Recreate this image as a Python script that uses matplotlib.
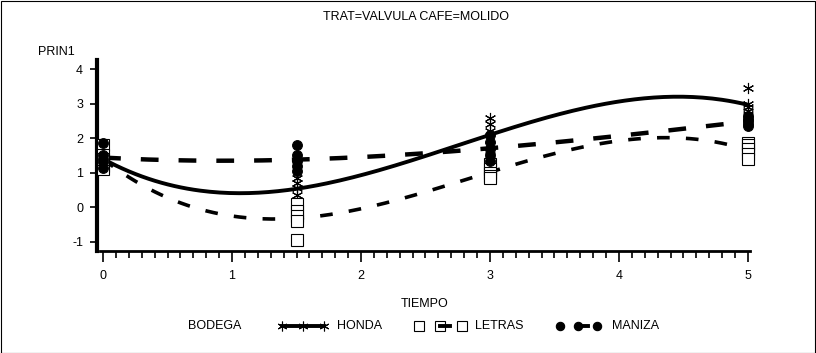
import numpy as np
import matplotlib.pyplot as plt
from matplotlib.lines import Line2D
from matplotlib.patches import Rectangle

plt.rcParams['font.family'] = ['Liberation Sans', 'DejaVu Sans']
plt.rcParams['axes.unicode_minus'] = False

# PRIN1 scores per sampling time (TIEMPO), five replicates each
tiempo = [0, 1.5, 3, 5]
honda = [
    [1.40, 1.35, 1.30, 1.45, 1.50],
    [0.85, 0.70, 0.55, 0.35, 0.22],
    [2.60, 2.40, 2.20, 1.80, 1.50],
    [3.45, 3.00, 2.90, 2.80, 2.70],
]
letras = [
    [1.80, 1.50, 1.20, 1.10, 1.40],
    [0.10, -0.10, -0.25, -0.40, -0.95],
    [1.25, 1.10, 1.00, 0.90, 0.85],
    [1.85, 1.80, 1.70, 1.55, 1.40],
]
maniza = [
    [1.85, 1.40, 1.30, 1.50, 1.15],
    [1.80, 1.50, 1.35, 1.20, 1.05],
    [2.10, 1.90, 1.70, 1.50, 1.35],
    [2.65, 2.55, 2.50, 2.40, 2.35],
]
bodegas = ['HONDA', 'LETRAS', 'MANIZA']

W, H = 816, 353
fig = plt.figure(figsize=(W / 100, H / 100), dpi=100)
ax = fig.add_axes([97 / W, 1 - 251 / H, (750 - 97) / W, (251 - 60) / H])

star = (6, 2, 0)
styles = {
    'HONDA': dict(marker=star, ms=8, mfc='none', mew=0.8),
    'LETRAS': dict(marker='s', ms=8, mfc='white', mew=0.8),
    'MANIZA': dict(marker='o', ms=7, mfc='black', mew=0.8),
}
curves = {
    'HONDA': dict(ls='-', lw=2.8),
    'LETRAS': dict(ls=(0, (3.5, 4.5)), lw=2.6),
    'MANIZA': dict(ls=(0, (4, 4.5)), lw=3.2),
}

xs = np.linspace(0, 5, 200)
for name, data in zip(bodegas, [honda, letras, maniza]):
    data = np.array(data)
    # smooth curve through the group means
    means = data.mean(axis=1)
    coef = np.polyfit(tiempo, means, 3)
    ax.plot(xs, np.polyval(coef, xs), color='black', zorder=2, **curves[name])
    px = np.repeat(tiempo, data.shape[1])
    ax.plot(px, data.ravel(), ls='none', color='black', zorder=3, clip_on=False,
            **styles[name])

ax.set_xlim(-0.047, 5.016)
ax.set_ylim(-1.27, 4.27)
ax.set_xticks([0, 1, 2, 3, 4, 5])
ax.set_xticks(np.arange(0, 5.01, 0.1), minor=True)
ax.set_yticks([-1, 0, 1, 2, 3, 4])
ax.tick_params(axis='x', which='major', length=8, width=1.2, labelsize=9, pad=6)
ax.tick_params(axis='x', which='minor', length=5, width=1.2)
ax.tick_params(axis='y', length=5, width=1.2, labelsize=9, pad=5)
for s in ['top', 'right']:
    ax.spines[s].set_visible(False)
ax.spines['left'].set_linewidth(3)
ax.spines['bottom'].set_linewidth(2)
ax.spines['bottom'].set_bounds(-0.02, 5.016)

# titles
fig.text(416 / W, 1 - 17 / H, 'TRAT=VALVULA CAFE=MOLIDO', ha='center', va='center', fontsize=9)
fig.text(38 / W, 1 - 52 / H, 'PRIN1', ha='left', va='center', fontsize=9)
fig.text(425 / W, 1 - 304 / H, 'TIEMPO', ha='center', va='center', fontsize=9)

# legend row
ly = 1 - 326 / H
fig.text(215 / W, ly, 'BODEGA', ha='center', va='center', fontsize=9)
legend_pos = {
    'HONDA': ([282, 303, 324], 337),
    'LETRAS': ([419, 440, 462], 475),
    'MANIZA': ([560, 578, 597], 612),
}
for name in bodegas:
    mx, tx = legend_pos[name]
    lx = [v / W for v in mx]
    seg = Line2D(lx, [ly] * 3, transform=fig.transFigure, color='black',
                 ls='none', **{k: v for k, v in styles[name].items() if k != 'ms'},
                 ms=styles[name]['ms'] - 1)
    fig.add_artist(seg)
    if name == 'HONDA':
        fig.add_artist(Line2D([lx[0], lx[2]], [ly, ly], transform=fig.transFigure,
                              color='black', lw=2.8))
    else:
        fig.add_artist(Line2D([lx[1], lx[1] + 10 / W], [ly, ly], transform=fig.transFigure,
                              color='black', lw=2.8))
    fig.text(tx / W, ly, name, ha='left', va='center', fontsize=9)

fig.add_artist(Rectangle((0.5 / W, 0.5 / H), 1 - 1.5 / W, 1 - 1.5 / H, transform=fig.transFigure,
                         fill=False, edgecolor='black', lw=0.8))

fig.savefig('out.png', dpi=100)
